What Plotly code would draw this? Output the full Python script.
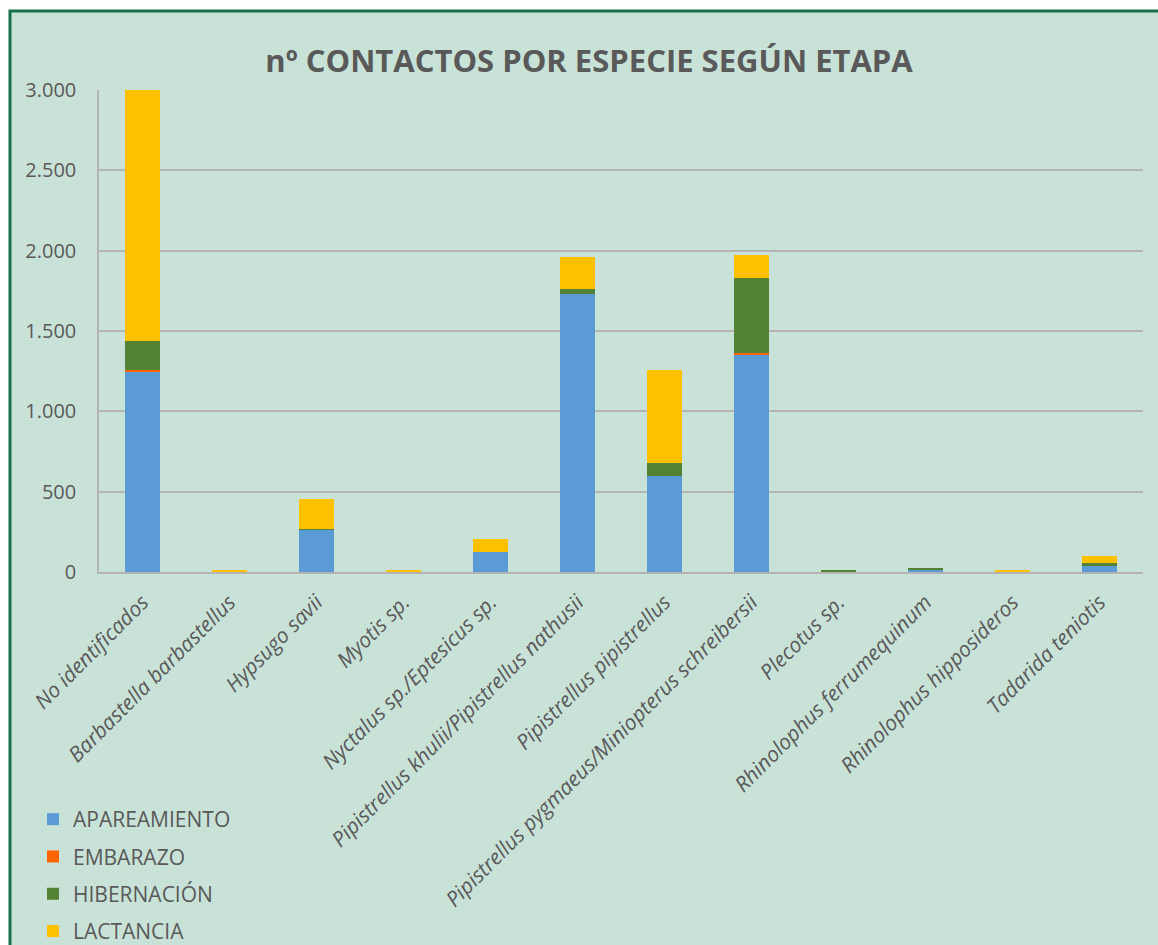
import plotly.graph_objects as go

# Species (categories) and number of contacts per reproductive stage
especies = [
    "No identificados",
    "Barbastella barbastellus",
    "Hypsugo savii",
    "Myotis sp.",
    "Nyctalus sp./Eptesicus sp.",
    "Pipistrellus khulii/Pipistrellus nathusii",
    "Pipistrellus pipistrellus",
    "Pipistrellus pygmaeus/Miniopterus schreibersii",
    "Plecotus sp.",
    "Rhinolophus ferrumequinum",
    "Rhinolophus hipposideros",
    "Tadarida teniotis",
]
apareamiento = [1250, 0, 265, 0, 126, 1730, 597, 1355, 0, 14, 0, 38]
embarazo = [8, 0, 0, 0, 0, 0, 0, 8, 0, 0, 0, 0]
hibernacion = [178, 0, 5, 0, 0, 32, 81, 464, 7, 8, 0, 16]
lactancia = [1562, 9, 183, 8, 78, 200, 581, 143, 0, 0, 8, 47]

y_tickvals = [0, 500, 1000, 1500, 2000, 2500, 3000]
y_ticktext = ["0", "500", "1.000", "1.500", "2.000", "2.500", "3.000"]

series = [
    ("APAREAMIENTO", apareamiento, "#5B9BD5"),
    ("EMBARAZO", embarazo, "#FF6600"),
    ("HIBERNACIÓN", hibernacion, "#548235"),
    ("LACTANCIA", lactancia, "#FFC000"),
]

FONT = "Open Sans"
TEXT = "#595959"
BG = "#C8E2D8"

W, H = 1158, 945
ML, MR, MT, MB = 99, 15, 90, 373
PW, PH = W - ML - MR, H - MT - MB


def px_x(p):
    return (p - ML) / PW


def px_y(p):
    return (H - MB - p) / PH


fig = go.Figure()
for name, vals, color in series:
    fig.add_trace(go.Bar(
        x=especies, y=vals, name=name, legendgroup=name,
        marker=dict(color=color, line=dict(width=0)),
    ))

fig.update_layout(
    width=W, height=H,
    margin=dict(l=ML, r=MR, t=MT, b=MB, pad=0, autoexpand=False),
    barmode="stack", bargap=0.6,
    paper_bgcolor="white", plot_bgcolor="rgba(0,0,0,0)",
    font=dict(family=FONT, color=TEXT, size=18),
    title=dict(
        text="<b>nº CONTACTOS POR ESPECIE SEGÚN ETAPA</b>",
        x=589 / W, xanchor="center", y=1 - 61 / H, yanchor="middle",
        xref="container", yref="container",
        font=dict(family=FONT, size=31, color=TEXT),
    ),
    showlegend=True,
    legend=dict(
        x=px_x(33), y=px_y(799), xanchor="left", yanchor="top",
        orientation="v", traceorder="grouped", tracegroupgap=7,
        bgcolor="rgba(0,0,0,0)", font=dict(size=21, color=TEXT, family=FONT),
        itemwidth=30,
    ),
    shapes=[
        # chart area panel with its dark green frame
        dict(type="rect", xref="paper", yref="paper", layer="below",
             x0=px_x(10), x1=px_x(W + 20), y0=px_y(H + 20), y1=px_y(11),
             fillcolor=BG, line=dict(color="#17704A", width=3)),
    ],
)

fig.update_xaxes(
    automargin=False,
    tickangle=-45, showgrid=False, showline=True, linecolor="#B4B4B4",
    linewidth=1.5, ticks="", ticklabelstandoff=8,
    tickfont=dict(family=FONT, size=21, color=TEXT, style="italic"),
)
fig.update_yaxes(
    automargin=False,
    range=[0, 3000], tickvals=y_tickvals, ticktext=y_ticktext,
    showgrid=True, gridcolor="#B4B4B4", gridwidth=1.5,
    showline=True, linecolor="#B4B4B4", linewidth=1.5,
    zeroline=False, ticks="", ticklabelstandoff=17,
    tickfont=dict(family=FONT, size=20, color=TEXT),
)

fig.write_html("out.html")
